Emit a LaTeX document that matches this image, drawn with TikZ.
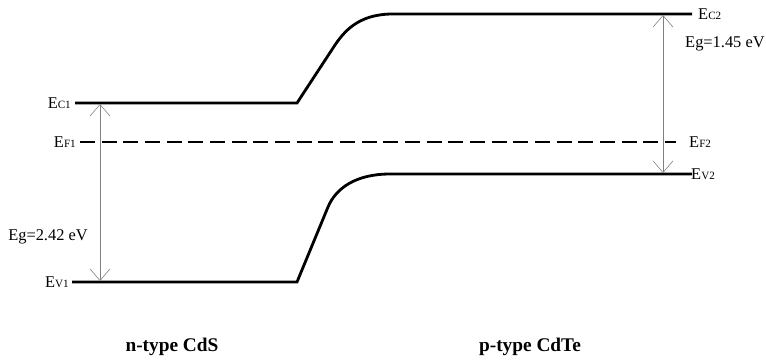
\documentclass[tikz,border=0pt]{standalone}
\usepackage{fontspec}
\setmainfont{Liberation Serif}
\usetikzlibrary{arrows.meta}
\usetikzlibrary{positioning}
\newcommand{\lvlsub}[1]{{\fontsize{9.5}{9.5}\selectfont #1}}

\begin{document}
\begin{tikzpicture}[x=0.03cm,y=-0.03cm,
  band/.style={line width=2.4pt},
  fermi/.style={line width=1.6pt,dash pattern=on 0.45cm off 0.2cm},
  gap/.style={gray,line width=0.5pt,{Straight Barb[length=3.5mm,width=6mm]}-{Straight Barb[length=3.5mm,width=6mm]}},
  lvl/.style={inner sep=0pt,font=\fontsize{14}{14}\selectfont},
  side/.style={inner sep=0pt,font=\fontsize{16.5}{16.5}\selectfont\bfseries}]
\useasboundingbox (0,0) rectangle (766,362);
% n side
\coordinate (C1a) at (75,103);
\coordinate (C1b) at (297,103);
\coordinate (V1a) at (72,282);
\coordinate (V1b) at (297,282);
% p side
\coordinate (C2a) at (390,14);
\coordinate (C2b) at (692,14);
\coordinate (V2a) at (390,174);
\coordinate (V2b) at (692,174);
\coordinate (F1) at (80,142);
\coordinate (F2) at (676,142);
% bands
\draw[band] (C1a) -- (C1b) -- (335,45) .. controls (347,27) and (362,15) .. (C2a) -- (C2b);
\draw[band] (V1a) -- (V1b) -- (328,207) .. controls (336,188) and (356,174) .. (V2a) -- (V2b);
\draw[fermi] (F1) -- (F2);
% gaps
\coordinate (g1t) at (100,104);
\coordinate (g1b) at (100,281);
\coordinate (g2t) at (663,15);
\coordinate (g2b) at (663,173);
\draw[gap] (g1t) -- (g1b);
\draw[gap] (g2t) -- (g2b);
% labels
\node[lvl,anchor=east] (EC1) at (71,103) {E\lvlsub{C1}};
\node[lvl,anchor=east] (EF1) at (76,142) {E\lvlsub{F1}};
\node[lvl,anchor=east] (EV1) at (69,282) {E\lvlsub{V1}};
\node[lvl] (Eg1) at (48,237) {Eg=2.42 eV};
\node[lvl,anchor=west] (EC2) at (698,14) {E\lvlsub{C2}};
\node[lvl,anchor=west] (EF2) at (689,142) {E\lvlsub{F2}};
\node[lvl,anchor=west] (EV2) at (691,174) {E\lvlsub{V2}};
\node[lvl,anchor=west] (Eg2) at (685,44) {Eg=1.45 eV};
\node[side] (nside) at (172,347) {n-type CdS};
\node[side] (pside) at (530,347) {p-type CdTe};
\end{tikzpicture}
\end{document}
